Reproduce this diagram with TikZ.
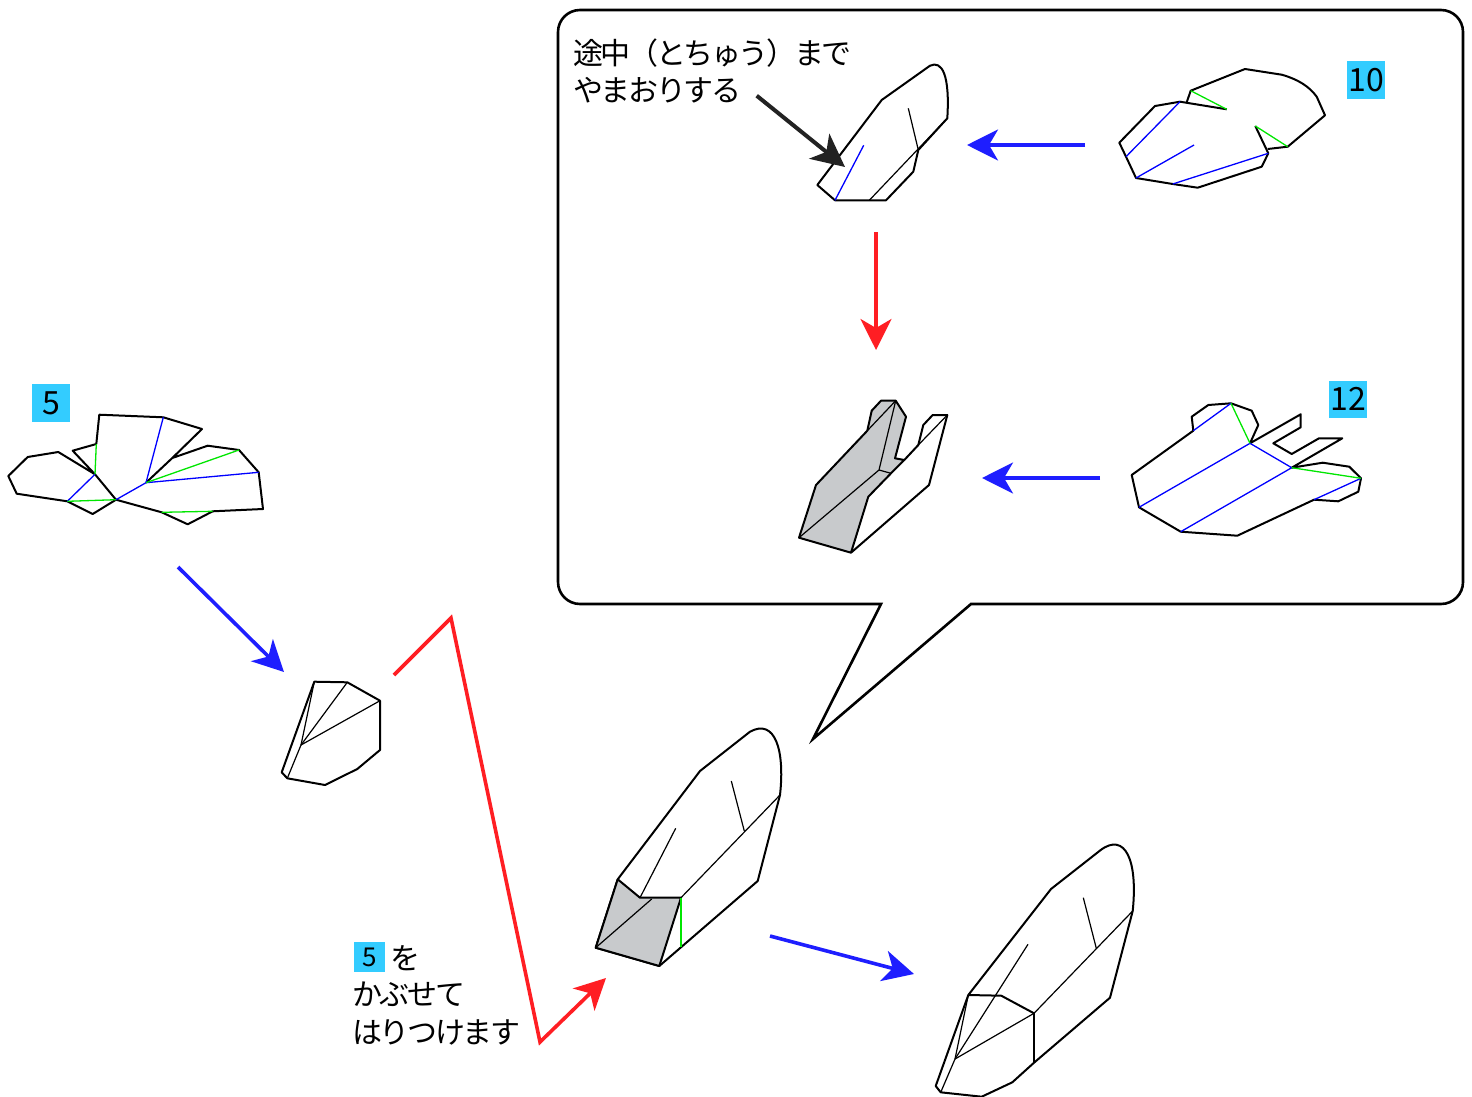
\documentclass[tikz,border=0pt]{standalone}
\usepackage{fontspec}
\setmainfont{Noto Sans CJK JP}
\newfontfamily\jptight[LetterSpace=-8]{Noto Sans CJK JP}
\usetikzlibrary{arrows.meta}
\definecolor{arrowblue}{RGB}{30,30,255}
\definecolor{arrowred}{RGB}{255,30,35}
\definecolor{arrowdark}{RGB}{34,34,34}
\definecolor{labelblue}{RGB}{51,204,255}
\definecolor{foldgray}{RGB}{200,202,204}
\definecolor{foldgreen}{RGB}{0,230,0}
\tikzset{
    outline/.style={line width=2pt, line join=round},
    crease/.style={line width=1.2pt},
    valley/.style={line width=1.3pt, blue},
    mountain/.style={line width=1.3pt, foldgreen},
    stepflow/.style={line width=3.6pt, arrowblue, -{Stealth[length=31pt,width=31pt,inset=9pt]}},
    redflow/.style={line width=3.6pt, arrowred, line join=miter, -{Stealth[length=31pt,width=31pt,inset=9pt]}},
    pointer/.style={line width=4pt, arrowdark, -{Stealth[length=33pt,width=32pt,inset=9pt]}},
    numlabel/.style={fill=labelblue, inner sep=0pt, font=\fontsize{32}{32}\selectfont},
    caption/.style={inner sep=0pt, anchor=north west, align=left, font=\jptight\fontsize{30}{37}\selectfont}
}
\begin{document}
\begin{tikzpicture}[x=1pt, y=-1pt]
    \useasboundingbox (0,0) rectangle (1472,1097);

    % speech bubble
    \draw[line width=2.6pt, line join=miter]
        (881,604) -- (813,739) -- (971,604) [rounded corners=22pt] -- (1463,604) -- (1463,10)
        -- (558,10) -- (558,604) [sharp corners] -- cycle;

    % sheet 5
    \draw[outline] (8.3,476) -- (27.7,457) -- (58.3,452) -- (95,474.3) -- (72.7,450.7) -- (96.3,444)
        -- (99.3,414.7) -- (163.3,417.3) -- (202,429) -- (172.3,458) -- (207.7,445.7) -- (239,450)
        -- (258.7,472.3) -- (263,509) -- (212.7,511.3) -- (187.7,524.3) -- (161.7,512.3)
        -- (116,499.7) -- (92.7,514) -- (67.3,501.3) -- (16.7,493.7) -- cycle;
    \draw[outline] (95,474.3) -- (116,499.7);
    \draw[outline] (172.3,458) -- (146,482.7);
    \draw[valley] (95,474.3) -- (67.3,501.3);
    \draw[valley] (163.3,417.3) -- (146,482.7);
    \draw[valley] (116,499.7) -- (146,482.7) -- (258.7,472.3);
    \draw[mountain] (96.3,444) -- (95,474.3);
    \draw[mountain] (67.3,501.3) -- (116,499.7);
    \draw[mountain] (146,482.7) -- (239,450);
    \draw[mountain] (161.7,512.3) -- (212.7,511.3);

    % folded 5
    \draw[outline] (314.3,681.7) -- (347.3,682.3) -- (380,700.7) -- (380,750) -- (357.3,769)
        -- (325,785) -- (287.3,778.3) -- (281.7,772.3) -- cycle;
    \draw[crease] (314.3,681.7) -- (301,745) -- (287.3,778.3);
    \draw[crease] (347.3,682.3) -- (301,745);
    \draw[crease] (380,700.7) -- (301,745);

    % sheet 10
    \draw[outline] (1186.7,102.3) -- (1190.7,90.7) -- (1245,69) -- (1281.7,74.7)
        .. controls (1297,79) and (1309,86) .. (1316.7,96.7) -- (1325,115.3) -- (1287.7,146.7)
        -- (1267.7,149);
    \draw[outline] (1255.3,126) -- (1268.3,153.3) -- (1261.7,166.7) -- (1197.7,187.7) -- (1172.7,184)
        -- (1136,178) -- (1126,156.7) -- (1119.3,142.7) -- (1155,106) -- (1180,101.7) -- (1226.7,109.3);
    \draw[valley] (1180,101.7) -- (1126,156.7);
    \draw[valley] (1136,178) -- (1194,145);
    \draw[valley] (1172.7,184) -- (1268.3,153.3);
    \draw[mountain] (1190.7,90.7) -- (1226.7,109.3);
    \draw[mountain] (1255.3,126) -- (1287.7,146.7);

    % half way figure
    \draw[outline] (817.3,185) -- (881.7,100) -- (930,65.7)
        .. controls (942,60) and (950,75) .. (947.3,118.3) -- (918.3,150) -- (913.3,171.7)
        -- (886,200.3) -- (835,200.3) -- cycle;
    \draw[crease] (908.3,108.3) -- (918.3,150);
    \draw[crease] (947.3,118.3) -- (869.3,200.3);
    \draw[valley] (835,200.3) -- (863.7,145.3);

    % sheet 12
    \draw[outline] (1131.7,475) -- (1193.3,430.7) -- (1191.7,416.7) -- (1208.3,405) -- (1231,403.3)
        -- (1251.7,410.7) -- (1258.3,425) -- (1250,443.3) -- (1300.7,414.3) -- (1300.7,427.3)
        -- (1273.3,443.3) -- (1291.7,454) -- (1319,438.3) -- (1342.3,438.3) -- (1291.7,467.7)
        -- (1322.7,462.7) -- (1349.3,466.7) -- (1361,478.3) -- (1358.3,491.7) -- (1338.3,501.3)
        -- (1314,499.7) -- (1237.3,535.7) -- (1180.7,531.7) -- (1139,507.3) -- cycle;
    \draw[valley] (1231,403.3) -- (1193.3,430.7);
    \draw[valley] (1250,443.3) -- (1139,507.3);
    \draw[valley] (1250,443.3) -- (1291.7,467.7) -- (1180.7,531.7);
    \draw[valley] (1361,478.3) -- (1314,499.7);
    \draw[mountain] (1231,403.3) -- (1250,443.3);
    \draw[mountain] (1291.7,467.7) -- (1361,478.3);

    % gray figure in the bubble
    \draw[outline, fill=foldgray] (799,537.7) -- (816,485) -- (867.3,430.7) -- (871.7,410.7) -- (881,400.7)
        -- (895.7,400.7) -- (906,416.7) -- (895,458.3) -- (904.3,460) -- (891,473.3)
        -- (868.3,496.7) -- (851,552.7) -- cycle;
    \draw[outline] (904.3,460) -- (918.3,445) -- (923.3,425) -- (932.7,415) -- (947.3,415)
        -- (929,485) -- (851,552.7);
    \draw[crease] (799,537.7) -- (879,470) -- (895.7,400.7);
    \draw[crease] (867.3,430.7) -- (895.7,400.7);
    \draw[crease] (879,470) -- (891,473.3);
    \draw[crease] (947.3,415) -- (918.3,445);

    % big figure with pocket
    \draw[outline] (595.7,947.7) -- (617.7,879.3) -- (700,771) -- (750,731.7)
        .. controls (775,718) and (785,750) .. (780,795) -- (757.7,881) -- (659.3,966) -- cycle;
    \draw[outline, fill=foldgray] (595.7,947.7) -- (617.7,879.3) -- (640,897.7) -- (681,897.7)
        -- (659.3,966) -- cycle;
    \draw[crease] (595.7,947.7) -- (651.7,899);
    \draw[crease] (640,897.7) -- (675.7,828.3);
    \draw[crease] (681,897.7) -- (780,795);
    \draw[crease] (731.3,781) -- (744.3,831);
    \draw[mountain] (681,897.7) -- (681,946.7);

    % finished figure
    \draw[outline] (968.3,995) -- (1051,889) -- (1100.7,850)
        .. controls (1125,832) and (1138,860) .. (1132.7,911) -- (1110,997.7) -- (1034,1062.7)
        -- (1012.3,1082.3) -- (981.7,1096.7) -- (940.7,1092.3) -- (935.7,1086) -- cycle;
    \draw[outline] (968.3,995) -- (1001.3,995.7) -- (1034,1013.3);
    \draw[crease] (1034,1013.3) -- (1034,1062.7);
    \draw[crease] (1034,1013.3) -- (1132.7,911);
    \draw[crease] (1034,1013.3) -- (955,1059);
    \draw[crease] (968.3,995) -- (955,1059) -- (940.7,1092.3);
    \draw[crease] (955,1059) -- (1028,944.3);
    \draw[crease] (1083.3,897.7) -- (1096.3,948.3);

    % flow arrows
    \coordinate (from10) at (1085,145);
    \coordinate (to10) at (967,145);
    \coordinate (from12) at (1100,478);
    \coordinate (to12) at (982,478);
    \coordinate (fromhalf) at (876,232);
    \coordinate (tohalf) at (876,350);
    \coordinate (from5) at (178,567);
    \coordinate (to5) at (284,672);
    \coordinate (frombig) at (770,936);
    \coordinate (tobig) at (914,974);
    \coordinate (pocketa) at (394,675);
    \coordinate (pocketb) at (451,618);
    \coordinate (pocketc) at (540,1042);
    \coordinate (pocketd) at (606,978);
    \coordinate (fromfold) at (756.7,95.7);
    \coordinate (tofold) at (845,167);
    \draw[stepflow] (from10) -- (to10);
    \draw[stepflow] (from12) -- (to12);
    \draw[stepflow] (from5) -- (to5);
    \draw[stepflow] (frombig) -- (tobig);
    \draw[redflow] (fromhalf) -- (tohalf);
    \draw[redflow] (pocketa) -- (pocketb) -- (pocketc) -- (pocketd);
    \draw[pointer] (fromfold) -- (tofold);

    % labels
    \node[numlabel, minimum width=38pt, minimum height=38pt] (label5) at (51,403) {5};
    \node[numlabel, minimum width=38pt, minimum height=38pt] (label10) at (1366,80) {10};
    \node[numlabel, minimum width=38pt, minimum height=37pt] (label12) at (1348,399) {12};
    \node[numlabel, minimum width=31pt, minimum height=30pt, font=\fontsize{26}{26}\selectfont] (small5) at (369.5,957) {5};
    \node[caption, anchor=west] (wotext) at (390,958) {を};
    \node[caption, font=\jptight\fontsize{30}{38}\selectfont] (covertext) at (352,982) {かぶせて\\はりつけます};
    \node[caption] (foldtext) at (573,39) {途中（とちゅう）まで\\やまおりする};
\end{tikzpicture}
\end{document}
